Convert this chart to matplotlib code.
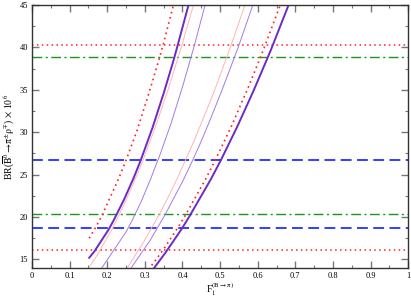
import matplotlib
matplotlib.use('Agg')
import matplotlib.pyplot as plt
from matplotlib.ticker import MultipleLocator

plt.rcParams['font.family'] = ['Liberation Serif', 'DejaVu Serif']
plt.rcParams['mathtext.fontset'] = 'stix'

# curves: (F1, BR x 10^6)
red_left_f = [0.152, 0.168, 0.184, 0.23, 0.25, 0.28, 0.312, 0.339, 0.349, 0.376]
red_left_br = [17.5, 18.7, 20.0, 24.5, 26.7, 30.3, 34.8, 38.8, 40.4, 45.0]

thick_left_f = [0.152, 0.165, 0.204, 0.218, 0.245, 0.27, 0.289, 0.32, 0.35, 0.376, 0.385, 0.416]
thick_left_br = [15.2, 15.9, 18.55, 19.7, 22.1, 24.6, 26.7, 30.5, 34.6, 38.45, 39.9, 45.0]

pink_left_f = [0.152, 0.173, 0.211, 0.226, 0.25, 0.278, 0.295, 0.33, 0.363, 0.40, 0.429]
pink_left_br = [14.1, 15.5, 18.45, 19.75, 22.0, 24.85, 26.7, 30.9, 35.2, 40.5, 45.0]

lav_left_f = [0.184, 0.25, 0.265, 0.29, 0.314, 0.339, 0.37, 0.401, 0.432, 0.46]
lav_left_br = [13.9, 18.25, 19.5, 21.8, 24.35, 27.2, 31.1, 35.5, 40.3, 45.0]

pink_right_f = [0.252, 0.30, 0.34, 0.367, 0.384, 0.43, 0.472, 0.487, 0.528, 0.566]
pink_right_br = [13.9, 17.3, 20.45, 22.8, 24.35, 28.9, 33.45, 35.15, 40.1, 45.0]

lav_right_f = [0.262, 0.314, 0.354, 0.402, 0.427, 0.447, 0.473, 0.504, 0.548, 0.587]
lav_right_br = [13.9, 17.25, 20.3, 24.35, 26.7, 28.65, 31.4, 34.85, 40.0, 45.0]

red_right_f = [0.318, 0.349, 0.389, 0.407, 0.46, 0.487, 0.53, 0.575, 0.611, 0.62, 0.66]
red_right_br = [14.3, 16.15, 18.85, 20.15, 24.35, 26.7, 30.7, 35.3, 39.25, 40.3, 45.0]

thick_right_f = [0.323, 0.354, 0.398, 0.418, 0.476, 0.502, 0.545, 0.589, 0.626, 0.635, 0.682]
thick_right_br = [13.9, 15.75, 18.6, 20.05, 24.5, 26.7, 30.6, 34.9, 38.75, 39.7, 45.0]

# horizontal bands
red_levels = [40.3, 16.1]
green_levels = [38.85, 20.3]
blue_levels = [26.7, 18.7]

fig = plt.figure(figsize=(4.11, 2.99), dpi=100)
ax = fig.add_axes([0.078, 0.104, 0.915, 0.879])

purple = '#6b2bc9'
lavender = '#a47ae6'
pink = '#ffb4b4'

for y in red_levels:
    ax.axhline(y, color='#ff2020', ls=(0, (1, 2.2)), lw=1.1)
for y in green_levels:
    ax.axhline(y, color='#1a961a', ls=(0, (7, 2.5, 1.5, 2.5)), lw=1.0)
for y in blue_levels:
    ax.axhline(y, color='#2030ff', ls=(0, (6, 3)), lw=1.3)

ax.plot(pink_left_f, pink_left_br, color=pink, lw=0.7)
ax.plot(pink_right_f, pink_right_br, color=pink, lw=0.7)
ax.plot(lav_left_f, lav_left_br, color=lavender, lw=0.7)
ax.plot(lav_right_f, lav_right_br, color=lavender, lw=0.7)
ax.plot(red_left_f, red_left_br, color='#ff2020', ls=(0, (1, 2.2)), lw=1.2)
ax.plot(red_right_f, red_right_br, color='#ff2020', ls=(0, (1, 2.2)), lw=1.2)
ax.plot(thick_left_f, thick_left_br, color=purple, lw=1.4)
ax.plot(thick_right_f, thick_right_br, color=purple, lw=1.4)

ax.set_xlim(0, 1)
ax.set_ylim(14, 45)
ax.xaxis.set_minor_locator(MultipleLocator(0.05))
ax.yaxis.set_major_locator(MultipleLocator(5))
ax.yaxis.set_minor_locator(MultipleLocator(2.5))
ax.set_xticks([0, 0.1, 0.2, 0.3, 0.4, 0.5, 0.6, 0.7, 0.8, 0.9, 1])
ax.set_xticklabels(['0', '0.1', '0.2', '0.3', '0.4', '0.5', '0.6', '0.7', '0.8', '0.9', '1'])
ax.tick_params(which='both', direction='in', top=True, right=True,
               color='#777777', labelsize=6, pad=3)
ax.tick_params(which='major', length=5, width=1)
ax.tick_params(which='minor', length=2.5, width=0.8)
for s in ax.spines.values():
    s.set_linewidth(1.0)
    s.set_color('#333333')

ax.set_xlabel(r'F$_1^{(\rm B\rightarrow\pi)}$', fontsize=7, labelpad=0)
ax.set_ylabel(r'BR($\overline{\rm B}^0\!\rightarrow\!\pi^{\pm}\rho^{\mp}$) $\times$ 10$^6$',
              fontsize=7, labelpad=2)

fig.savefig('out.png', dpi=100)
